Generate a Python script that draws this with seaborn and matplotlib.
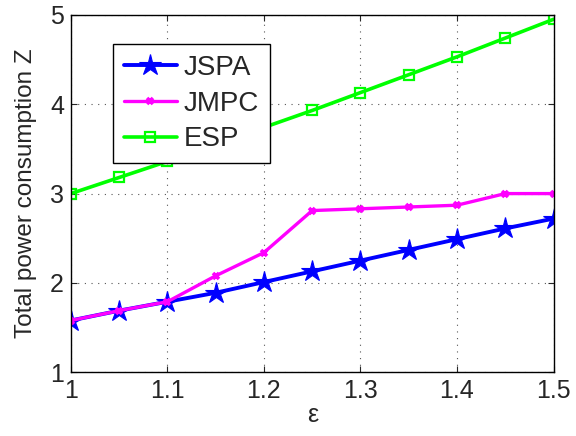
import matplotlib
matplotlib.use('Agg')
import matplotlib.pyplot as plt
import seaborn as sns

eps = [1.0, 1.05, 1.1, 1.15, 1.2, 1.25, 1.3, 1.35, 1.4, 1.45, 1.5]
jspa = [1.58, 1.69, 1.79, 1.89, 2.01, 2.13, 2.25, 2.37, 2.49, 2.61, 2.72]
jmpc = [1.58, 1.69, 1.79, 2.08, 2.34, 2.81, 2.83, 2.85, 2.87, 3.0, 3.0]
esp = [3.0, 3.18, 3.36, 3.55, 3.74, 3.93, 4.13, 4.33, 4.53, 4.74, 4.95]

sns.set_style('ticks')
plt.rcParams['font.family'] = ['Liberation Sans', 'DejaVu Sans']

fig = plt.figure(figsize=(5.76, 4.36), dpi=100)
ax = fig.add_axes([0.123, 0.146, 0.838, 0.82])

sns.lineplot(x=eps, y=jspa, ax=ax, color='#0000ff', lw=2.8, marker='*',
             markersize=16, markeredgecolor='#0000ff', markeredgewidth=0.8,
             label='JSPA')
sns.lineplot(x=eps, y=jmpc, ax=ax, color='#ff00ff', lw=2.4, marker='x',
             markersize=5, markeredgewidth=2.6, markeredgecolor='#ff00ff',
             label='JMPC')
sns.lineplot(x=eps, y=esp, ax=ax, color='#00ff00', lw=2.6, marker='s',
             markersize=7, markerfacecolor='none', markeredgecolor='#00ff00',
             markeredgewidth=1.6, label='ESP')

ax.set_xlim(1, 1.5)
ax.set_ylim(1, 5)
ax.set_xticks([1, 1.1, 1.2, 1.3, 1.4, 1.5])
ax.set_xticklabels(['1', '1.1', '1.2', '1.3', '1.4', '1.5'])
ax.set_yticks([1, 2, 3, 4, 5])
ax.tick_params(direction='in', labelsize=18, top=True, right=True, length=4,
               width=0.8, pad=5)
ax.grid(True, linestyle=(0, (1, 5)), color='#555555', linewidth=0.8)
for s in ax.spines.values():
    s.set_linewidth(1.0)
    s.set_color('black')

ax.set_xlabel('ε', fontsize=18, labelpad=0)
ax.set_ylabel('Total power consumption Z', fontsize=17.5, labelpad=9)

leg = ax.legend(loc='upper left', bbox_to_anchor=(0.087, 0.919),
                borderaxespad=0, fontsize=20, frameon=True, fancybox=False,
                handlelength=1.9, borderpad=0.4, labelspacing=0.35,
                handletextpad=0.25)
leg.get_frame().set_edgecolor('black')
leg.get_frame().set_linewidth(1.0)
leg.get_frame().set_alpha(1)

fig.savefig('out.png', dpi=100)
